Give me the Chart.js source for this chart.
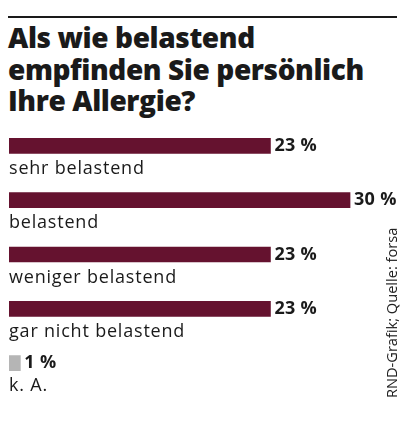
<!DOCTYPE html>
<html>
<head>
<meta charset="utf-8">
<script src="https://cdn.jsdelivr.net/npm/chart.js@4"></script>
<style>
  html, body { margin: 0; padding: 0; background: #fff; }
  body { width: 406px; height: 424px; position: relative; overflow: hidden; font-family: "Open Sans", sans-serif; color: #1a1a1a; }
  #rule { position: absolute; left: 8px; top: 16px; width: 389px; height: 2px; background: #1a1a1a; }
  #title { position: absolute; left: 8px; top: 22px; margin: 0; font-size: 28px; font-weight: 800; line-height: 31.5px; letter-spacing: -0.4px; }
  #source { position: absolute; left: 381px; top: 398px; font-size: 14.6px; color: #222; white-space: nowrap; transform-origin: 0 0; transform: rotate(-90deg); }
  #myChart { position: absolute; left: 0; top: 0; }
</style>
</head>
<body>
<div id="rule"></div>
<h1 id="title">Als wie belastend<br>empfinden Sie persönlich<br>Ihre Allergie?</h1>
<canvas id="myChart" width="406" height="424"></canvas>
<div id="source">RND-Grafik; Quelle: forsa</div>
<script>
const label = ["sehr belastend", "belastend", "weniger belastend", "gar nicht belastend", "k. A."];
const values1 = [23, 30, 23, 23, 1];
const colors = ["#65122f", "#65122f", "#65122f", "#65122f", "#b5b5b5"];

const ctx = document.getElementById("myChart");

const barLabels = {
    id: "barLabels",
    afterDatasetsDraw(chart) {
        const c = chart.ctx;
        const meta = chart.getDatasetMeta(0);
        c.save();
        meta.data.forEach((bar, i) => {
            c.fillStyle = "#1a1a1a";
            c.textAlign = "left";
            c.textBaseline = "middle";
            c.font = "bold 18px 'Open Sans'";
            c.letterSpacing = "0.3px";
            c.fillText(values1[i] + " %", bar.x + 4, bar.y);
            c.textBaseline = "alphabetic";
            c.font = "18px 'Open Sans'";
            c.letterSpacing = "0.8px";
            c.fillText(label[i], chart.chartArea.left, bar.y + 28);
        });
        c.restore();
    }
};

const data = {
    labels: label,
    datasets: [
        {
            label: "Anteil",
            data: values1,
            backgroundColor: colors,
            borderWidth: 0,
            barThickness: 15,
        },
    ],
};

new Chart(ctx, {
    type: "bar",
    data: data,
    plugins: [barLabels],
    options: {
        indexAxis: "y",
        responsive: false,
        animation: false,
        layout: {
            padding: { left: 9, right: 10.5, top: 118.75, bottom: 33.75 },
        },
        plugins: {
            legend: { display: false },
            tooltip: { enabled: false },
        },
        scales: {
            x: { display: false, min: 0, max: 34 },
            y: { display: false },
        },
    },
});
</script>
</body>
</html>
